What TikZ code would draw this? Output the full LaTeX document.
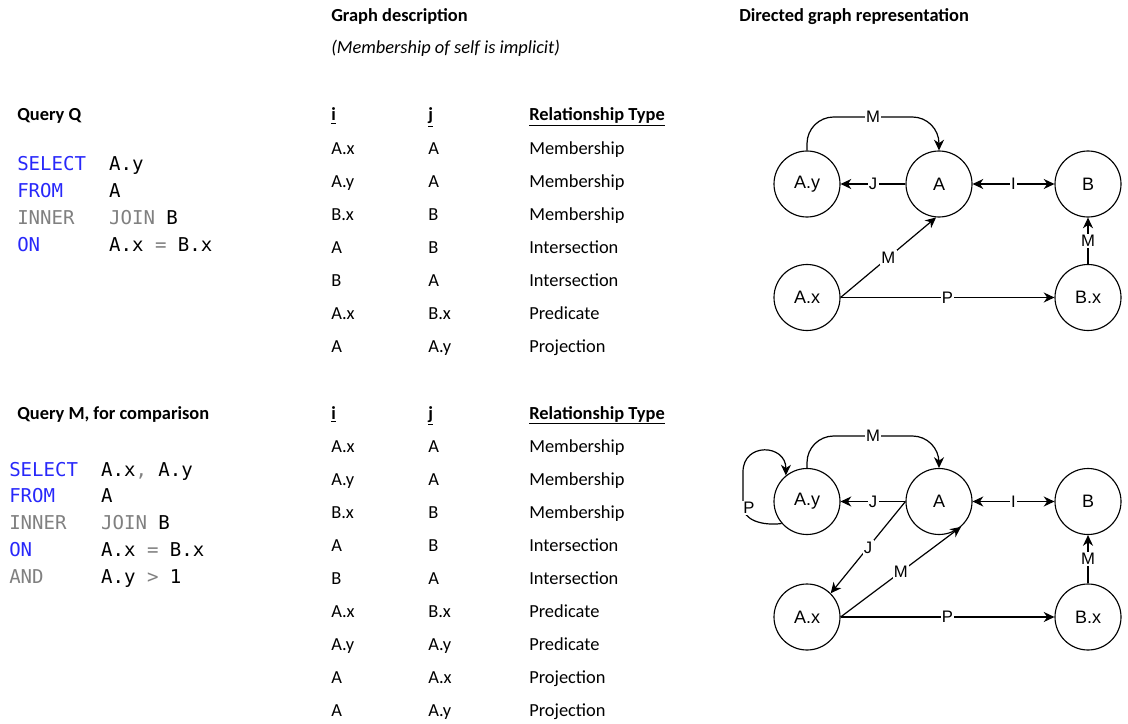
\documentclass[tikz,border=0pt]{standalone}
\usepackage{fontspec}
\newfontfamily\carl{Carlito}
\newfontfamily\codefont{DejaVu Sans Mono}
\newfontfamily\arial{Liberation Sans}
\usetikzlibrary{arrows.meta}
\definecolor{kw}{RGB}{40,40,250}
\definecolor{op}{RGB}{128,128,128}

\begin{document}
\begin{tikzpicture}[x=0.75pt,y=-0.75pt,
  txt/.style={anchor=base west, inner sep=0pt, font=\carl\fontsize{13.8}{16}\selectfont},
  hdr/.style={txt, font=\carl\bfseries\fontsize{13.8}{16}\selectfont},
  code/.style={anchor=base west, inner sep=0pt, font=\codefont\fontsize{14.3}{17}\selectfont},
  vert/.style={circle, draw, line width=0.85pt, minimum size=49.5pt, inner sep=0pt,
               font=\arial\fontsize{13.5}{15}\selectfont},
  tip/.tip={Stealth[length=8pt,width=7.5pt,inset=2.5pt]},
  edge/.style={draw, line width=0.9pt, -tip},
  edgeboth/.style={draw, line width=0.9pt, tip-tip},
  lbl/.style={fill=white, inner sep=1pt, font=\arial\fontsize{12.5}{14}\selectfont}
]
\useasboundingbox (0,0) rectangle (1128,724);

% ---------- column headings ----------
\node[hdr] (gdesc) at (331,22) {Graph description};
\node[txt, font=\carl\itshape\fontsize{13.8}{16}\selectfont] (gnote) at (331,54) {(Membership of self is implicit)};
\node[hdr] (grep) at (739,22) {Directed graph representation};

% ---------- Query Q ----------
\node[hdr] (qq) at (17,121) {Query Q};
\node[code] (qq1) at (17,170) {{\color{kw}SELECT}~~A.y};
\node[code] (qq2) at (17,197) {{\color{kw}FROM}~~~~A};
\node[code] (qq3) at (17,224) {{\color{op}INNER~~~JOIN}~B};
\node[code] (qq4) at (17,251) {{\color{kw}ON}~~~~~~A.x~{\color{op}=}~B.x};

% ---------- Query M ----------
\node[hdr] (qm) at (17,419) {Query M, for comparison};
\node[code] (qm1) at (9,476) {{\color{kw}SELECT}~~A.x{\color{op},}~A.y};
\node[code] (qm2) at (9,502) {{\color{kw}FROM}~~~~A};
\node[code] (qm3) at (9,529) {{\color{op}INNER~~~JOIN}~B};
\node[code] (qm4) at (9,556) {{\color{kw}ON}~~~~~~A.x~{\color{op}=}~B.x};
\node[code] (qm5) at (9,583) {{\color{op}AND}~~~~~A.y~{\color{op}>}~1};

% ---------- table for Q ----------
\node[hdr] (tahi) at (331,121) {\underline{i}};
\node[hdr] (tahj) at (428,121) {\underline{j}};
\node[hdr] (tahr) at (529,121) {\underline{Relationship Type}};
\foreach \ii/\jj/\rt [count=\n] in {A.x/A/Membership, A.y/A/Membership, B.x/B/Membership,
    A/B/Intersection, B/A/Intersection, A.x/B.x/Predicate, A/A.y/Projection}{
  \node[txt] (tai\n) at (331,{154+33.1*(\n-1)}) {\ii};
  \node[txt] (taj\n) at (428,{154+33.1*(\n-1)}) {\jj};
  \node[txt] (tar\n) at (529,{154+33.1*(\n-1)}) {\rt};
}

% ---------- table for M ----------
\node[hdr] (tbhi) at (331,419) {\underline{i}};
\node[hdr] (tbhj) at (428,419) {\underline{j}};
\node[hdr] (tbhr) at (529,419) {\underline{Relationship Type}};
\foreach \ii/\jj/\rt [count=\n] in {A.x/A/Membership, A.y/A/Membership, B.x/B/Membership,
    A/B/Intersection, B/A/Intersection, A.x/B.x/Predicate, A.y/A.y/Predicate,
    A/A.x/Projection, A/A.y/Projection}{
  \node[txt] (tbi\n) at (331,{452+33.1*(\n-1)}) {\ii};
  \node[txt] (tbj\n) at (428,{452+33.1*(\n-1)}) {\jj};
  \node[txt] (tbr\n) at (529,{452+33.1*(\n-1)}) {\rt};
}

% ---------- graph of Q ----------
\node[vert] (Ay1) at (807,184) {A.y};
\node[vert] (A1)  at (939,184) {A};
\node[vert] (B1)  at (1088,184) {B};
\node[vert] (Ax1) at (807,297.5) {A.x};
\node[vert] (Bx1) at (1088,297.5) {B.x};

\coordinate (m1) at (873,117);
\draw[edge, rounded corners=20pt] (Ay1.north) |- (m1) -| (A1.north);
\node[lbl] (lm1) at (m1) {M};
\draw[edge] (A1.west) -- node[lbl] (lj1) {J} (Ay1.east);
\draw[edgeboth] (A1.east) -- node[lbl] (li1) {I} (B1.west);
\draw[edge] (Bx1.north) -- node[lbl] (lmb1) {M} (B1.south);
\draw[edge] (Ax1.east) -- node[lbl] (lma1) {M} (A1.265);
\draw[edge] (Ax1.east) -- node[lbl] (lp1) {P} (Bx1.west);

% ---------- graph of M ----------
\node[vert] (Ay2) at (807,501.5) {A.y};
\node[vert] (A2)  at (939,501.5) {A};
\node[vert] (B2)  at (1088,501.5) {B};
\node[vert] (Ax2) at (807,617) {A.x};
\node[vert] (Bx2) at (1088,617) {B.x};

\coordinate (m2) at (873,436);
\draw[edge, rounded corners=20pt] (Ay2.north) |- (m2) -| (A2.north);
\node[lbl] (lm2) at (m2) {M};
\draw[edge] (Ay2.221) .. controls (762,526) and (743,520) .. (743,506)
  -- (743,472) .. controls (743,442) and (786,444) .. (Ay2.129);
\node[lbl] (lpy2) at (749,508) {P};
\draw[edge] (A2.west) -- node[lbl] (lj2) {J} (Ay2.east);
\draw[edge] (A2.west) -- node[lbl] (ljx2) {J} (Ax2.45);
\draw[edgeboth] (A2.east) -- node[lbl] (li2) {I} (B2.west);
\draw[edge] (Bx2.north) -- node[lbl] (lmb2) {M} (B2.south);
\draw[edge] (Ax2.east) -- node[lbl] (lma2) {M} (A2.311);
\draw[edge] (Ax2.east) -- node[lbl] (lp2) {P} (Bx2.west);

\end{tikzpicture}
\end{document}
